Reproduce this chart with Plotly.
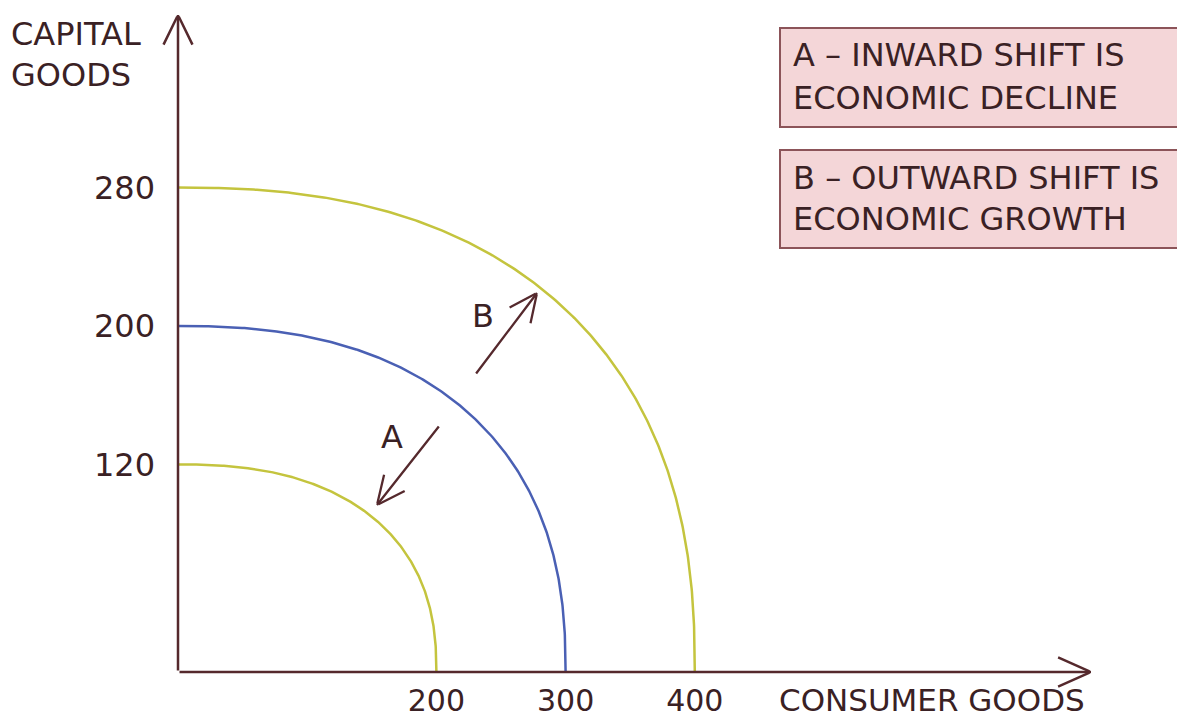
import math
import numpy as np
import plotly.graph_objects as go

# ---- data ----
curve_names = ["PPF decline", "PPF original", "PPF growth"]
x_intercepts = [200, 300, 400]          # consumer goods
y_intercepts = [120, 200, 280]          # capital goods
curve_colors = ["#c4c43e", "#4a60b4", "#c4c43e"]
x_tick_vals = [200, 300, 400]
y_tick_vals = [120, 200, 280]
x_title = "CONSUMER GOODS"
y_title_lines = ["CAPITAL", "GOODS"]
box_a_lines = ["A – INWARD SHIFT IS", "ECONOMIC DECLINE"]
box_b_lines = ["B – OUTWARD SHIFT IS", "ECONOMIC GROWTH"]
shape_exponent = 2.4   # curve "fullness" (superellipse exponent)

# ---- layout geometry (page body has an 8px margin) ----
OFF = 8
W, H = 1185 - OFF, 718 - OFF
ORIGIN_X, ORIGIN_Y = 178, 672          # window pixels of the axes origin
ML = ORIGIN_X - OFF
MB = H - (ORIGIN_Y - OFF)
PW, PH = W - ML, H - MB
SX, SY = 1.292, 1.73      # px per unit
XMAX = PW / SX
YMAX = PH / SY

def px_x(p):
    return (p - ORIGIN_X) / SX

def px_y(p):
    return (ORIGIN_Y - p) / SY

def paper_x(p):
    return (p - ORIGIN_X) / PW

def paper_y(p):
    return (ORIGIN_Y - p) / PH

TXT = "#3a2124"
AXC = "#55292d"
FONT = "DejaVu Sans"
FS = 32
FS_BOTTOM = 30

fig = go.Figure()

t = np.linspace(0, np.pi / 2, 300)
for name, a, b, c in zip(curve_names, x_intercepts, y_intercepts, curve_colors):
    xs = a * np.cos(t) ** (2 / shape_exponent)
    ys = b * np.sin(t) ** (2 / shape_exponent)
    fig.add_trace(go.Scatter(x=xs, y=ys, mode="lines", name=name,
                             line=dict(color=c, width=2.5), showlegend=False,
                             hoverinfo="skip", cliponaxis=False))

annotations = []

def stroke(x0, y0, x1, y1, width):
    annotations.append(dict(x=px_x(x1), y=px_y(y1), ax=px_x(x0), ay=px_y(y0),
                            xref="x", yref="y", axref="x", ayref="y", text="",
                            showarrow=True, arrowhead=0, arrowwidth=width,
                            arrowcolor=AXC, standoff=0, startstandoff=0))

def open_arrow(tail, tip, head_len, half_deg, width=2):
    stroke(tail[0], tail[1], tip[0], tip[1], width)
    dx, dy = tip[0] - tail[0], tip[1] - tail[1]
    n = math.hypot(dx, dy)
    ux, uy = dx / n, dy / n
    for s in (1, -1):
        a = math.radians(half_deg) * s
        bx = ux * math.cos(a) - uy * math.sin(a)
        by = ux * math.sin(a) + uy * math.cos(a)
        stroke(tip[0], tip[1], tip[0] - head_len * bx, tip[1] - head_len * by, width)

# axes (window pixel geometry)
open_arrow((ORIGIN_X, ORIGIN_Y), (1091, ORIGIN_Y), 36, 24, 2.5)
open_arrow((ORIGIN_X, ORIGIN_Y), (ORIGIN_X, 15), 33, 26, 2.5)
# shift arrows
open_arrow((475, 375), (537, 293), 31, 25, 2.3)
open_arrow((440, 425), (377, 505), 31, 25, 2.3)

def label(text, px, py, anchor="left", size=FS):
    annotations.append(dict(x=paper_x(px), y=paper_y(py), xref="paper", yref="paper",
                            text=text, showarrow=False, xanchor=anchor,
                            yanchor="middle",
                            font=dict(family=FONT, size=size, color=TXT)))

label("B", 483, 316, "center")
label("A", 392, 437, "center")
label(y_title_lines[0], 9, 34)
label(y_title_lines[1], 9, 75)
label(x_title, 777, 700, size=FS_BOTTOM + 1)
label(box_a_lines[0], 791, 55)
label(box_a_lines[1], 791, 98)
label(box_b_lines[0], 791, 178)
label(box_b_lines[1], 791, 219)

shapes = []
for (top, bot) in [(28, 127), (150, 248)]:
    shapes.append(dict(type="rect", xref="paper", yref="paper",
                       x0=paper_x(780), x1=paper_x(1200), y0=paper_y(bot), y1=paper_y(top),
                       fillcolor="#f4d6d8", line=dict(color="#8c5459", width=2),
                       layer="below"))

fig.update_layout(
    width=W, height=H,
    margin=dict(l=ML, r=0, t=0, b=MB, autoexpand=False),
    plot_bgcolor="white", paper_bgcolor="white",
    showlegend=False,
    annotations=annotations,
    shapes=shapes,
    xaxis=dict(range=[0, XMAX], showgrid=False, zeroline=False, showline=False,
               tickvals=x_tick_vals, ticks="", ticklabelstandoff=8, automargin=False,
               tickfont=dict(family=FONT, size=FS_BOTTOM, color=TXT), fixedrange=True),
    yaxis=dict(range=[0, YMAX], showgrid=False, zeroline=False, showline=False,
               tickvals=y_tick_vals, ticks="", ticklabelstandoff=22, automargin=False,
               tickfont=dict(family=FONT, size=FS, color=TXT), fixedrange=True),
)

fig.write_html("out.html", config={"displayModeBar": False})
